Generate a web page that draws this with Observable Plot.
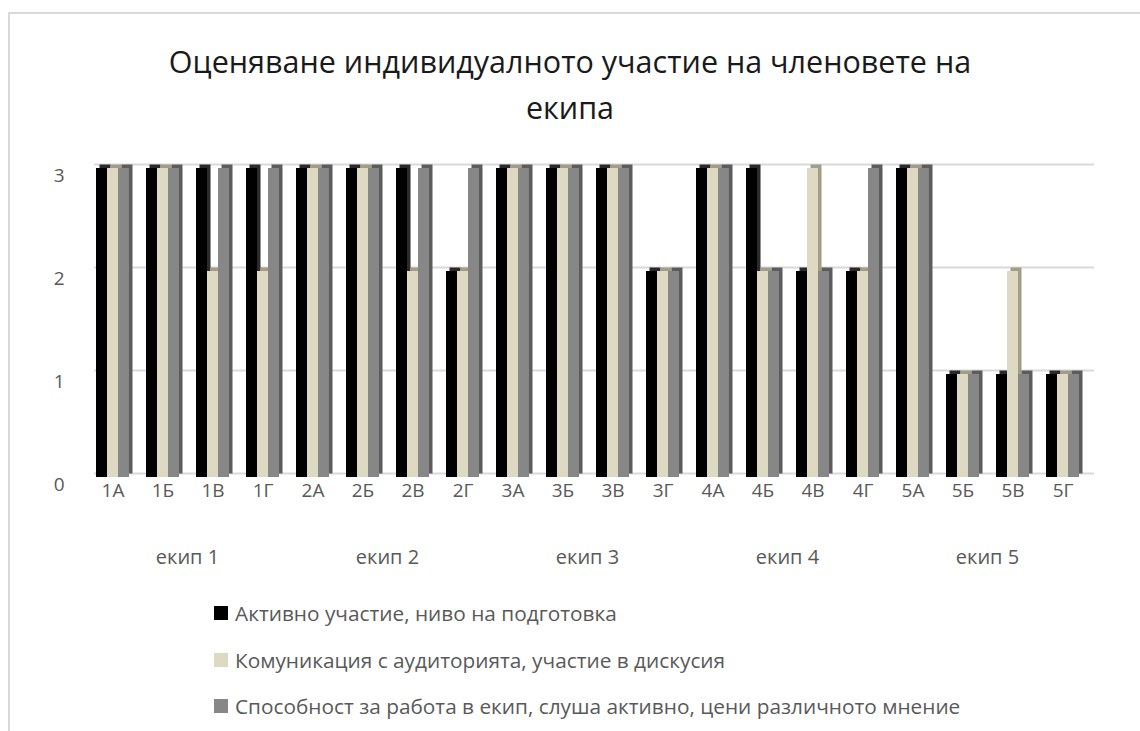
<!DOCTYPE html>
<html>
<head>
<meta charset="utf-8">
<script src="https://cdn.jsdelivr.net/npm/d3@7"></script>
<script src="https://cdn.jsdelivr.net/npm/@observablehq/plot@0.6"></script>
<style>
  html, body { margin: 0; padding: 0; background: #fff; }
  body { width: 1140px; height: 731px; overflow: hidden; position: relative; font-family: "Open Sans", "Noto Sans", sans-serif; }
  #frame { position: absolute; left: 8px; top: 12px; width: 1200px; height: 800px; border: 2px solid #d9d9d9; box-sizing: border-box; }
  #title { position: absolute; left: 0; top: 38px; width: 1140px; text-align: center; font-size: 30.5px; line-height: 46px; color: #1a1a1a; }
  #chart { position: absolute; left: 0; top: 130px; }
  #legend { position: absolute; left: 214px; top: 600px; font-size: 20.8px; color: #595959; }
  .li { position: absolute; left: 0; white-space: nowrap; display: flex; align-items: center; height: 26px; }
  .sw { width: 14px; height: 14px; margin-right: 7px; display: inline-block; }
</style>
</head>
<body>
<div id="frame"></div>
<div id="title"></div>
<div id="chart"></div>
<div id="legend"></div>
<script>
// ---- data ----
const titleLines = ["Оценяване индивидуалното участие на членовете на", "екипа"];
const teams = ["екип 1", "екип 2", "екип 3", "екип 4", "екип 5"];
const members = ["1А","1Б","1В","1Г","2А","2Б","2В","2Г","3А","3Б","3В","3Г","4А","4Б","4В","4Г","5А","5Б","5В","5Г"];
const letters = ["А","Б","В","Г"];
const seriesNames = [
  "Активно участие, ниво на подготовка",
  "Комуникация с аудиторията, участие в дискусия",
  "Способност за работа в екип, слуша активно, цени различното мнение"
];
const active        = [3,3,3,3, 3,3,3,2, 3,3,3,2, 3,3,2,2, 3,1,1,1];
const communication = [3,3,2,2, 3,3,2,2, 3,3,3,2, 3,2,3,2, 3,1,2,1];
const teamwork      = [3,3,3,3, 3,3,3,3, 3,3,3,2, 3,2,2,3, 3,1,1,1];
const yTicks = [0, 1, 2, 3];

const seriesValues = [active, communication, teamwork];
const frontColors = ["#000000", "#ddd9c3", "#878787"];
const sideColors  = ["#2a2a2a", "#a19d88", "#5c5c5c"];

const rows = [];
members.forEach((m, i) => {
  seriesValues.forEach((vals, s) => {
    rows.push({member: m, team: teams[Math.floor(i / 4)], letter: m.slice(1), s, value: vals[i]});
  });
});

// ---- title ----
document.getElementById("title").innerHTML = titleLines.join("<br>");

// ---- chart ----
const bw = 33;           // band width (pixels) split into three bars
const third = bw / 3;
const barMarks = [];
for (let s = 0; s < 3; s++) {
  const data = rows.filter(d => d.s === s);
  const common = {fx: "team", x: "letter", y: "value", insetLeft: s * third, insetRight: (2 - s) * third};
  barMarks.push(Plot.barY(data, {...common, fill: sideColors[s], dx: 3.5, dy: -3.5}));
  barMarks.push(Plot.barY(data, {...common, fill: frontColors[s]}));
}

const chart = Plot.plot({
  width: 1140,
  height: 470,
  marginLeft: 86,
  marginRight: 52,
  marginTop: 38,
  marginBottom: 123,
  style: {fontFamily: "'Open Sans', 'Noto Sans', sans-serif", background: "transparent"},
  fx: {domain: teams, padding: 0},
  x: {domain: letters, paddingInner: 0.34, paddingOuter: 0.17, axis: null},
  y: {domain: [0, 3]},
  marks: [
    Plot.ruleY(yTicks, {stroke: "#d9d9d9", strokeWidth: 2, dx: 7, dy: -4}),
    Plot.axisY({ticks: yTicks, tickSize: 0, tickPadding: 23, dy: 7, fontSize: 19, color: "#595959", label: null, tickFormat: d3.format("d")}),
    ...barMarks,
    Plot.text(rows.filter(d => d.s === 0), {fx: "team", x: "letter", text: "member", frameAnchor: "bottom", dy: 19, fontSize: 19, fill: "#595959"}),
    Plot.axisFx({anchor: "bottom", tickSize: 0, tickPadding: 72, fontSize: 20, color: "#595959", label: null})
  ]
});
document.getElementById("chart").appendChild(chart);

// ---- legend ----
const legend = document.getElementById("legend");
const rowTops = [0, 47, 93];
seriesNames.forEach((name, s) => {
  const el = document.createElement("div");
  el.className = "li";
  el.style.top = rowTops[s] + "px";
  el.innerHTML = `<span class="sw" style="background:${frontColors[s]}"></span><span>${name}</span>`;
  legend.appendChild(el);
});
</script>
</body>
</html>
